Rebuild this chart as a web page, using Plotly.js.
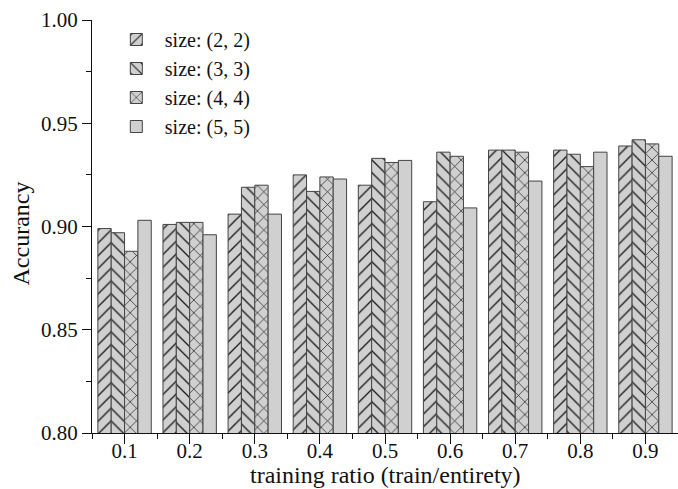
<!DOCTYPE html>
<html>
<head>
<meta charset="utf-8">
<script src="https://cdn.plot.ly/plotly-3.0.1.min.js"></script>
<style>html,body{margin:0;padding:0;background:#fff;}#chart{width:678px;height:489px;}</style>
</head>
<body>
<div id="chart"></div>
<script>
var ratios = [0.1, 0.2, 0.3, 0.4, 0.5, 0.6, 0.7, 0.8, 0.9];
var tickLabels = ['0.1', '0.2', '0.3', '0.4', '0.5', '0.6', '0.7', '0.8', '0.9'];
var seriesNames = ['size: (2, 2)', 'size: (3, 3)', 'size: (4, 4)', 'size: (5, 5)'];
var size22 = [0.899, 0.901, 0.906, 0.925, 0.920, 0.912, 0.937, 0.937, 0.939];
var size33 = [0.897, 0.902, 0.919, 0.917, 0.933, 0.936, 0.937, 0.935, 0.942];
var size44 = [0.888, 0.902, 0.920, 0.924, 0.931, 0.934, 0.936, 0.929, 0.940];
var size55 = [0.903, 0.896, 0.906, 0.923, 0.932, 0.909, 0.922, 0.936, 0.934];
var seriesValues = [size22, size33, size44, size55];
var patternShapes = ['/', '\\', 'x', ''];

var FONT = 'Liberation Serif, Times New Roman, serif';
var traces = seriesValues.map(function (vals, i) {
  return {
    type: 'bar',
    name: seriesNames[i],
    x: ratios,
    y: vals,
    marker: {
      color: '#d0d0d0',
      line: {color: '#444444', width: 1},
      pattern: {shape: patternShapes[i], fgcolor: '#1a1a1a', bgcolor: '#d0d0d0', fillmode: 'replace', size: 9, solidity: 0.15}
    }
  };
});

var layout = {
  width: 678, height: 489,
  margin: {l: 92, r: 0, t: 20, b: 56},
  paper_bgcolor: '#fff', plot_bgcolor: '#fff',
  font: {family: FONT, size: 20, color: '#111'},
  barmode: 'group', bargap: 0.18, bargroupgap: 0,
  showlegend: true,
  legend: {x: 0.027, y: 1.0, xanchor: 'left', yanchor: 'top', bgcolor: 'rgba(0,0,0,0)',
           font: {family: FONT, size: 20, color: '#111'}, itemwidth: 47, tracegroupgap: 0},
  xaxis: {
    range: [0.05, 0.95], tickmode: 'array', tickvals: ratios, ticktext: tickLabels,
    showline: true, linecolor: '#111', linewidth: 1, mirror: false, showgrid: false, zeroline: false,
    ticks: 'outside', ticklen: 10, tickcolor: '#111', tickwidth: 1, ticklabelstandoff: -11,
    minor: {tickmode: 'linear', tick0: 0.05, dtick: 0.1, ticks: 'outside', ticklen: 5, tickcolor: '#111', showgrid: false},
    title: {text: ''},
    tickfont: {family: FONT, size: 21, color: '#111'}
  },
  yaxis: {
    range: [0.8, 1.0], dtick: 0.05, tick0: 0.8, tickformat: '.2f',
    showline: true, linecolor: '#111', linewidth: 1, showgrid: false, zeroline: false,
    ticks: 'outside', ticklen: 9, tickcolor: '#111', tickwidth: 1,
    minor: {dtick: 0.025, ticks: 'outside', ticklen: 5, tickcolor: '#111', showgrid: false},
    title: {text: ''},
    tickfont: {family: FONT, size: 21, color: '#111'}
  },
  annotations: [{
    text: 'training ratio (train/entirety)', xref: 'paper', yref: 'paper',
    x: 0.5, y: 0, xanchor: 'center', yanchor: 'middle', yshift: -42, showarrow: false,
    font: {family: FONT, size: 24, color: '#111'}
  }, {
    text: 'Accurancy', xref: 'paper', yref: 'paper', textangle: -90,
    x: 0, y: 0.5, xanchor: 'center', yanchor: 'middle', xshift: -72, yshift: -7, showarrow: false,
    font: {family: FONT, size: 24, color: '#111'}
  }]
};

Plotly.newPlot('chart', traces, layout, {displayModeBar: false, staticPlot: true});
</script>
</body>
</html>
